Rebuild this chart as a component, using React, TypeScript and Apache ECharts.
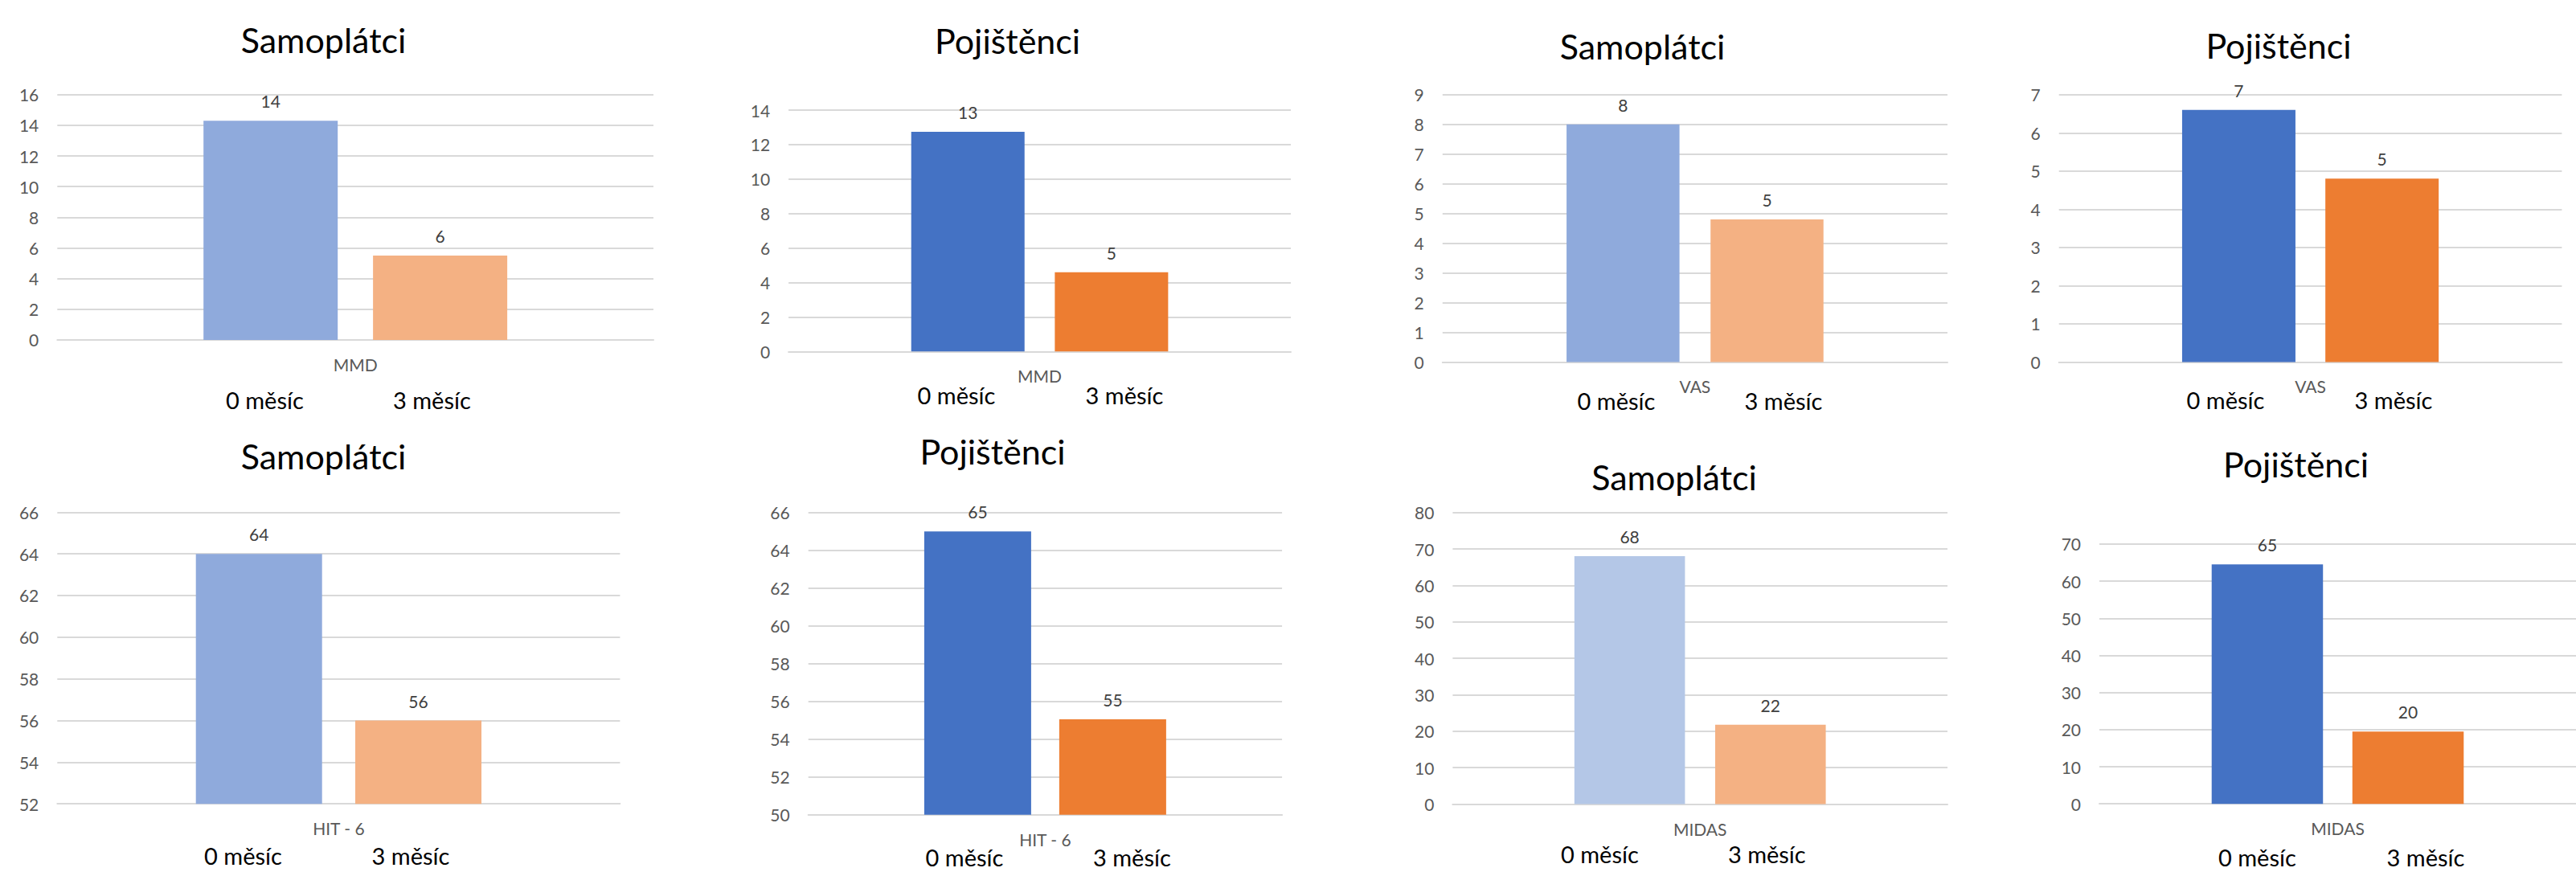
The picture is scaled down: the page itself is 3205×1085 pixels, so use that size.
import React, { useEffect, useRef } from "react";
import * as echarts from "echarts";

// ---- data ----
const legendLabels = ["0 měsíc", "3 měsíc"];
const panelTitles = ["Samoplátci", "Pojištěnci", "Samoplátci", "Pojištěnci", "Samoplátci", "Pojištěnci", "Samoplátci", "Pojištěnci"];
const categories = ["MMD", "MMD", "VAS", "VAS", "HIT - 6", "HIT - 6", "MIDAS", "MIDAS"];
const month0Values = [14.3, 12.75, 8.0, 6.6, 64, 65, 68, 64.5];
const month3Values = [5.5, 4.6, 4.8, 4.8, 56, 55.05, 21.8, 19.5];
const axisMin = [0, 0, 0, 0, 52, 50, 0, 0];
const axisMax = [16, 14, 9, 7, 66, 66, 80, 70];
const axisStep = [2, 2, 1, 1, 2, 2, 10, 10];

// ---- styles ----
const month0Colors = ["#8FAADC", "#4472C4", "#8FAADC", "#4472C4", "#8FAADC", "#4472C4", "#B4C7E7", "#4472C4"];
const month3Colors = ["#F4B183", "#ED7D31", "#F4B183", "#ED7D31", "#F4B183", "#ED7D31", "#F4B183", "#ED7D31"];

// ---- layout (pixels) ----
const layout = [
  { left: 71.3, right: 813, top: 117.8, bottom: 422.9, tx: 402.5, ty: 49.4, ly: 497, lx: [329.4, 537.4], bw: 167, gap: 44 },
  { left: 981.1, right: 1606, top: 137.1, bottom: 437.3, tx: 1253.6, ty: 50, ly: 491.7, lx: [1190, 1399], bw: 141, gap: 37.7 },
  { left: 1794.8, right: 2423, top: 117.8, bottom: 450.4, tx: 2043.5, ty: 57, ly: 498.3, lx: [2011, 2219], bw: 140.5, gap: 38.7 },
  { left: 2561.7, right: 3187.4, top: 117.8, bottom: 450.4, tx: 2835, ty: 56.5, ly: 497.6, lx: [2769, 2978], bw: 141, gap: 37.2 },
  { left: 71.3, right: 771.4, top: 637.3, bottom: 1000.2, tx: 402.5, ty: 567.2, ly: 1064, lx: [302.5, 511], bw: 157, gap: 41.3 },
  { left: 1005.7, right: 1595.1, top: 637.7, bottom: 1013.8, tx: 1235, ty: 561.8, ly: 1066, lx: [1200, 1408.4], bw: 133, gap: 35 },
  { left: 1807.4, right: 2423, top: 637.7, bottom: 1000.5, tx: 2083, ty: 593, ly: 1062.6, lx: [1990.4, 2198.3], bw: 137.6, gap: 37.6 },
  { left: 2612, right: 3227.6, top: 676.9, bottom: 1000.2, tx: 2856.6, ty: 577, ly: 1066, lx: [2808.4, 3018], bw: 138.5, gap: 36.5 },
];

const FONT = "Lato, 'Open Sans', sans-serif";
const GRID_COLOR = "#D9D9D9";

function buildOption(): echarts.EChartsOption {
  const grid: any[] = [];
  const xAxis: any[] = [];
  const yAxis: any[] = [];
  const series: any[] = [];
  const graphic: any[] = [];

  layout.forEach((l, i) => {
    grid.push({ left: l.left, top: l.top, width: l.right - l.left, height: l.bottom - l.top, containLabel: false });
    xAxis.push({
      type: "category",
      gridIndex: i,
      data: [categories[i]],
      axisTick: { show: false },
      axisLine: { show: true, lineStyle: { color: GRID_COLOR, width: 2 } },
      axisLabel: { margin: 20, fontSize: 21, color: "#595959", fontFamily: FONT },
    });
    yAxis.push({
      type: "value",
      gridIndex: i,
      min: axisMin[i],
      max: axisMax[i],
      interval: axisStep[i],
      startValue: axisMin[i],
      axisLine: { show: false },
      axisTick: { show: false },
      splitLine: { show: true, lineStyle: { color: GRID_COLOR, width: 2 } },
      axisLabel: { margin: 23, fontSize: 21, color: "#595959", fontFamily: FONT },
    });
    const gapPct = ((l.gap / l.bw) * 100).toFixed(1) + "%";
    const label = {
      show: true,
      position: "top",
      distance: 14,
      fontSize: 21,
      color: "#404040",
      fontFamily: FONT,
      formatter: (p: any) => String(Math.round(p.value)),
    };
    series.push({
      type: "bar",
      name: legendLabels[0],
      xAxisIndex: i,
      yAxisIndex: i,
      data: [month0Values[i]],
      barWidth: l.bw,
      barGap: gapPct,
      clip: true,
      itemStyle: { color: month0Colors[i] },
      label,
    });
    series.push({
      type: "bar",
      name: legendLabels[1],
      xAxisIndex: i,
      yAxisIndex: i,
      data: [month3Values[i]],
      barWidth: l.bw,
      barGap: gapPct,
      clip: true,
      itemStyle: { color: month3Colors[i] },
      label,
    });
    graphic.push({
      type: "text",
      x: l.tx,
      y: l.ty,
      style: {
        text: panelTitles[i],
        font: `43px ${FONT}`,
        fill: "#000000",
        align: "center",
        verticalAlign: "middle",
        textAlign: "center",
        textVerticalAlign: "middle",
      },
    });
    legendLabels.forEach((t, k) => {
      graphic.push({
        type: "text",
        x: l.lx[k],
        y: l.ly,
        style: {
          text: t,
          font: `29px ${FONT}`,
          fill: "#000000",
          align: "center",
          verticalAlign: "middle",
          textAlign: "center",
          textVerticalAlign: "middle",
        },
      });
    });
  });

  return {
    animation: false,
    backgroundColor: "#ffffff",
    grid,
    xAxis,
    yAxis,
    series,
    graphic,
  };
}

export default function App() {
  const ref = useRef<HTMLDivElement | null>(null);
  useEffect(() => {
    if (!ref.current) return;
    const chart = echarts.init(ref.current, undefined, { renderer: "svg" });
    chart.setOption(buildOption());
    return () => chart.dispose();
  }, []);
  return (
    <div
      ref={ref}
      style={{ position: "absolute", left: 0, top: 0, width: 3205, height: 1085, background: "#fff" }}
    />
  );
}
